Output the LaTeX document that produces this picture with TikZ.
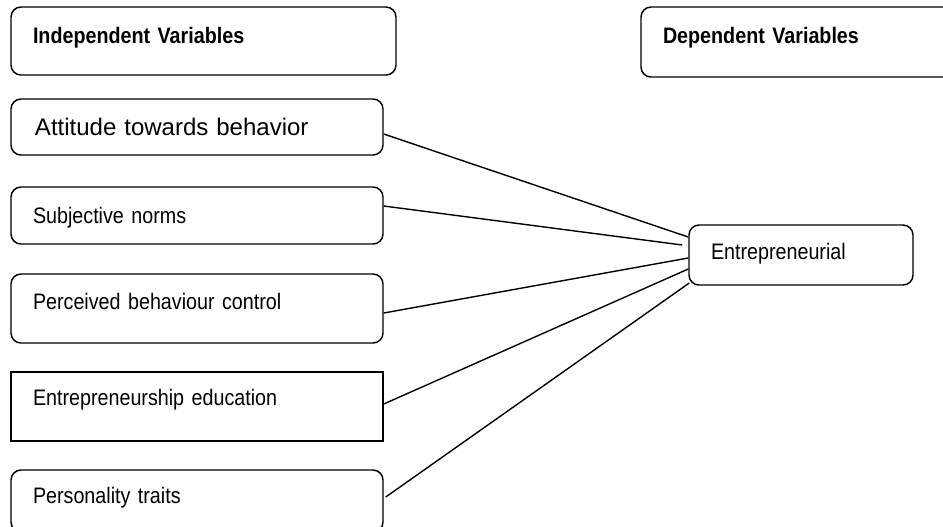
\documentclass[tikz,border=0pt]{standalone}
\usepackage{fontspec}
\setmainfont{Liberation Sans}
\newfontfamily\narrowfont{Liberation Sans}[FakeStretch=0.88]
\usetikzlibrary{positioning, calc}
\tikzstyle{var}=[%
      rectangle, rounded corners=7.5pt, draw=black, line width=1.1pt, fill=none,
      font=\narrowfont\fontsize{16.8pt}{19pt}\selectfont, text height=12pt, text depth=0pt,
      inner xsep=16.5pt, align=left, text width=246pt
]
\tikzstyle{head}=[%
      var, font=\narrowfont\bfseries\fontsize{16.8pt}{19pt}\selectfont
]
\tikzstyle{link}=[%
      draw=black, line width=1.05pt
]

\begin{document}
\begin{tikzpicture}[x=0.75pt, y=-0.75pt]
    \useasboundingbox (0,0) rectangle (943,526);

    \node[head, text width=255.75pt, minimum height=51pt, text depth=9pt]   (indep) at (203.5,41) {Independent Variables};
    \node[head, text width=207pt, minimum height=52.5pt, text depth=10.5pt] (dep)   at (801,42)   {Dependent Variables};

    \node[var, inner xsep=18pt, text width=243pt, minimum height=42pt, text height=13pt,
          font=\fontsize{18pt}{21pt}\selectfont]                       (attitude)    at (197,127)   {Attitude towards behavior};
    \node[var, minimum height=42.75pt]                                  (subjective)  at (197,215.5) {Subjective norms};
    \node[var, minimum height=51.75pt, text depth=10.5pt]               (perceived)   at (197,308.5) {Perceived behaviour control};
    \node[var, minimum height=51.75pt, text depth=14pt, rounded corners=0pt] (education) at (197,406.5) {Entrepreneurship education};
    \node[var, minimum height=46.5pt, text depth=9pt]                   (personality) at (197,501)   {Personality traits};

    \node[var, text width=135pt, minimum height=45pt, text depth=5pt]   (entre) at (801,255) {Entrepreneurial};

    \path[link] ($(attitude.east)+(0,7)$)      -- ($(entre.west)+(0,-18)$);
    \path[link] ($(subjective.east)+(0,-9.5)$) -- ($(entre.west)+(-6,-10)$);
    \path[link] ($(perceived.east)+(0,4.5)$)   -- ($(entre.west)+(0,3)$);
    \path[link] ($(education.east)+(0,-2.5)$)  -- ($(entre.west)+(0,14)$);
    \path[link] ($(personality.east)+(2,-4)$)  -- ($(entre.west)+(1,28)$);
\end{tikzpicture}
\end{document}
